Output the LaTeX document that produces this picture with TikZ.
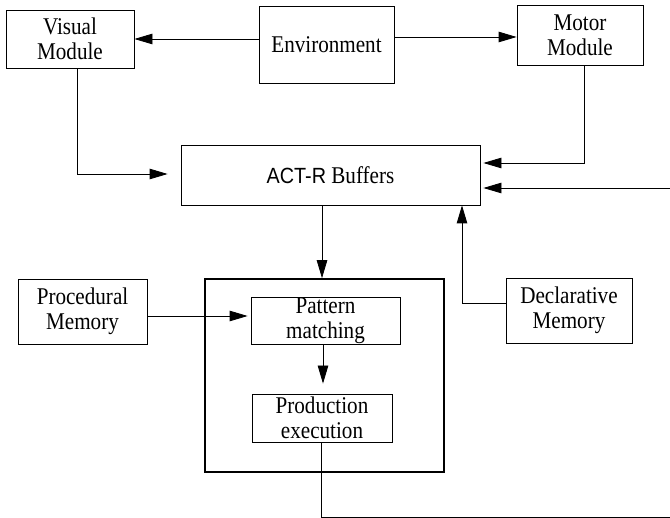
\documentclass[tikz,border=0pt]{standalone}
\usepackage{fontspec}
\setmainfont[FakeStretch=0.88]{Liberation Serif}
\newfontfamily\arialfont[FakeStretch=0.9]{Liberation Sans}
\usetikzlibrary{arrows.meta}
\begin{document}
\begin{tikzpicture}[x=1pt,y=-1pt,
  box/.style={draw,line width=0.8pt,align=center,inner sep=0pt,font=\fontsize{24}{25}\selectfont},
  frame/.style={draw,line width=1.6pt},
  arr/.style={line width=0.8pt,-{Triangle[length=18pt,width=10.5pt]}},
  ln/.style={line width=0.8pt}]
\useasboundingbox (0,0) rectangle (670,518);
\node[box,minimum width=128pt,minimum height=58pt] (visual) at (70,39) {Visual\\Module};
\node[box,minimum width=135pt,minimum height=77pt] (env) at (326.5,44.5) {Environment};
\node[box,minimum width=126pt,minimum height=60pt] (motor) at (580,35) {Motor\\Module};
\node[box,minimum width=299pt,minimum height=60pt] (buffers) at (330.5,175) {{\arialfont\fontsize{22}{25}\selectfont ACT-R}\ Buffers};
\node[box,minimum width=129pt,minimum height=65pt] (proc) at (82.5,311.5) {Procedural\\Memory};
\node[frame,minimum width=239pt,minimum height=193pt,inner sep=0pt] (big) at (324.5,375.5) {};
\node[box,minimum width=149pt,minimum height=47pt] (pattern) at (325.5,320.5) {Pattern\\matching};
\node[box,minimum width=140pt,minimum height=48pt] (prodx) at (322,418) {Production\\execution};
\node[box,minimum width=126pt,minimum height=65pt] (decl) at (569,310.5) {Declarative\\Memory};
\coordinate (edgein) at (670,188);
\coordinate (edgeout) at (670,517);
% connectors
\draw[arr] (env.west |- visual.east) -- (visual.east);
\draw[arr] (env.east |- 0,37) -- (motor.west |- 0,37);
\draw[arr] ([xshift=7pt]visual.south) |- ([xshift=-13pt,yshift=1pt]buffers.west);
\draw[arr] ([xshift=4pt]motor.south) |- ([xshift=3pt,yshift=12pt]buffers.east);
\draw[arr] (edgein) -- ([xshift=3pt,yshift=-13pt]buffers.east);
\draw[arr] ([xshift=-8.5pt]buffers.south) -- ([xshift=-2.5pt]big.north);
\draw[arr] ([yshift=7.5pt]decl.west) -| ([xshift=131.5pt]buffers.south);
\draw[arr] ([yshift=-4.5pt]proc.east) -- ([xshift=-3pt,yshift=4.5pt]pattern.west);
\draw[arr] ([xshift=-2.5pt]pattern.south) -- ([xshift=1pt,yshift=10pt]prodx.north);
\draw[ln] ([xshift=-1pt]prodx.south) |- (edgeout);
\end{tikzpicture}
\end{document}
